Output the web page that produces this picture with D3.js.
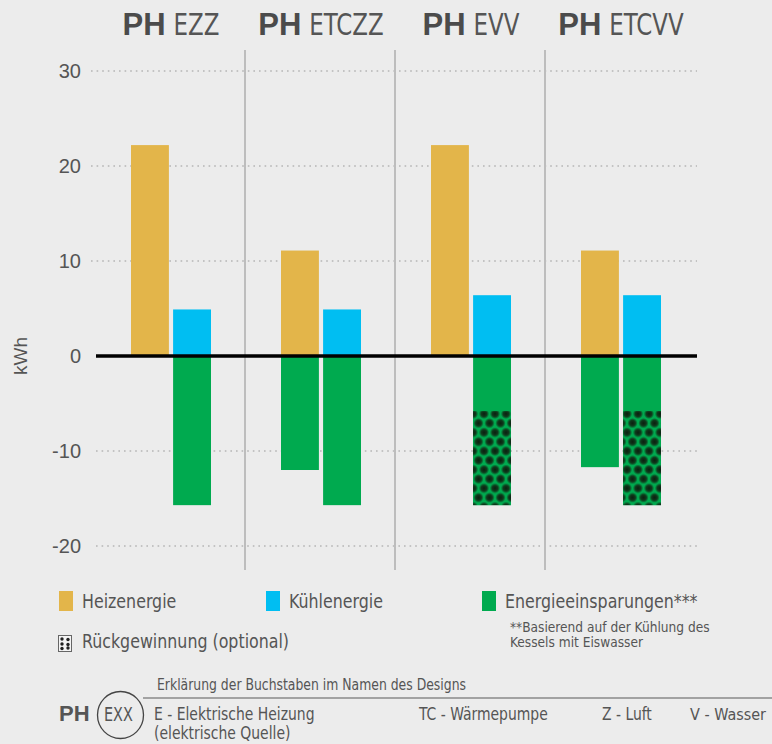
<!DOCTYPE html>
<html>
<head>
<meta charset="utf-8">
<script src="https://cdn.jsdelivr.net/npm/d3@7"></script>
<style>
  html, body { margin: 0; padding: 0; background: #ececec; }
  svg { display: block; }
  .narrow { font-family: "Liberation Sans Narrow", "DejaVu Sans Condensed", "Arial Narrow", sans-serif; }
  .sans { font-family: "Liberation Sans", Arial, sans-serif; }
</style>
</head>
<body>
<div id="chart"></div>
<script>
// Chart data
const designs = ["EZZ", "ETCZZ", "EVV", "ETCVV"];
const heating = [22.2, 11.1, 22.2, 11.1];
const cooling = [4.9, 4.9, 6.4, 6.4];
const savingsLeft = [null, -12.0, null, -11.7];
const savingsRight = [-15.7, -15.7, -15.7, -15.7];
const recoveryTop = [null, null, -5.8, -5.8];   // where the optional recovery part starts
const yTicks = [30, 20, 10, 0, -10, -20];

const width = 772;
const height = 744;
const textColor = "#555";

// squeeze condensed text a bit to get closer to the original narrow face
function condense(sel, k) {
    sel.each(function () {
        const w = this.getComputedTextLength();
        d3.select(this)
            .attr("textLength", w * k)
            .attr("lengthAdjust", "spacingAndGlyphs");
    });
    return sel;
}

const svg = d3.select("#chart").append("svg")
    .attr("width", width)
    .attr("height", height);

svg.append("rect").attr("width", width).attr("height", height).attr("fill", "#ececec");

// pattern for the recovery part
const defs = svg.append("defs");
const grad = defs.append("radialGradient").attr("id", "dotGrad");
grad.append("stop").attr("offset", "0%").attr("stop-color", "#0b1f10");
grad.append("stop").attr("offset", "55%").attr("stop-color", "#0f3a1c");
grad.append("stop").attr("offset", "100%").attr("stop-color", "#00aa4f");

const pat = defs.append("pattern")
    .attr("id", "recovery")
    .attr("patternUnits", "userSpaceOnUse")
    .attr("width", 11)
    .attr("height", 18.6);
pat.append("rect").attr("width", 11).attr("height", 18.6).attr("fill", "#00aa4f");
[[0, 4.65], [11, 4.65], [5.5, 13.95]].forEach(([cx, cy]) => {
    pat.append("circle").attr("cx", cx).attr("cy", cy).attr("r", 5.2).attr("fill", "url(#dotGrad)");
});

// scales
const y = d3.scaleLinear().domain([-20, 30]).range([546, 71]);
const x = d3.scaleBand().domain(designs).range([96, 696]);
const inner = d3.scaleBand().domain(["l", "r"]).range([-40, 40]).paddingInner(0.1);

// gridlines
svg.append("g")
    .selectAll("line")
    .data(yTicks.filter(d => d !== 0))
    .join("line")
    .attr("x1", d => d > 0 ? 91 : 96)
    .attr("x2", 697)
    .attr("y1", d => y(d))
    .attr("y2", d => y(d))
    .attr("stroke", "#9a9a9a")
    .attr("stroke-width", 1.2)
    .attr("stroke-dasharray", "1.6,4");

// tick labels
svg.append("g")
    .selectAll("text")
    .data(yTicks)
    .join("text")
    .attr("class", "sans")
    .attr("x", 81)
    .attr("y", d => y(d) + 7)
    .attr("text-anchor", "end")
    .attr("font-size", 20)
    .attr("fill", textColor)
    .text(d => d);

svg.append("text")
    .attr("class", "sans")
    .attr("transform", `translate(27,${y(0)}) rotate(-90)`)
    .attr("text-anchor", "middle")
    .attr("font-size", 19)
    .attr("fill", textColor)
    .text("kWh");

// group separators
svg.append("g")
    .selectAll("line")
    .data(designs.slice(1))
    .join("line")
    .attr("x1", d => x(d) - 1)
    .attr("x2", d => x(d) - 1)
    .attr("y1", 50)
    .attr("y2", 570)
    .attr("stroke", "#bdbdbd")
    .attr("stroke-width", 2);

// bars
const bars = svg.append("g");
function center(i) { return x(designs[i]) + x.bandwidth() / 2; }

function drawBars(values, slot, color) {
    bars.selectAll(null)
        .data(values.map((v, i) => ({ v, i })).filter(d => d.v !== null))
        .join("rect")
        .attr("x", d => center(d.i) + inner(slot))
        .attr("width", inner.bandwidth())
        .attr("y", d => y(Math.max(0, d.v)))
        .attr("height", d => Math.abs(y(d.v) - y(0)))
        .attr("fill", color);
}
drawBars(heating, "l", "#e3b54a");
drawBars(cooling, "r", "#00bef2");
drawBars(savingsLeft, "l", "#00aa4f");
drawBars(savingsRight, "r", "#00aa4f");

bars.selectAll(null)
    .data(recoveryTop.map((v, i) => ({ v, i })).filter(d => d.v !== null))
    .join("rect")
    .attr("x", d => center(d.i) + inner("r"))
    .attr("width", inner.bandwidth())
    .attr("y", d => y(d.v))
    .attr("height", d => y(savingsRight[d.i]) - y(d.v))
    .attr("fill", "url(#recovery)");

// zero line
svg.append("line")
    .attr("x1", 96).attr("x2", 697)
    .attr("y1", y(0)).attr("y2", y(0))
    .attr("stroke", "#000")
    .attr("stroke-width", 3.5);

// titles: bold "PH" + condensed design code, centred over each group
const titleG = svg.append("g").attr("fill", "#4b4b4b");
designs.forEach(d => {
    const ph = titleG.append("text")
        .attr("class", "sans")
        .attr("font-weight", "bold")
        .attr("font-size", 31)
        .attr("y", 35)
        .text("PH");
    const code = titleG.append("text")
        .attr("class", "narrow")
        .attr("font-size", 30)
        .attr("y", 35)
        .attr("fill", "#555")
        .text(d);
    condense(code, 0.85);
    const wPh = ph.node().getComputedTextLength();
    const wCode = +code.attr("textLength");
    const start = x(d) + x.bandwidth() / 2 - (wPh + 8 + wCode) / 2;
    ph.attr("x", start);
    code.attr("x", start + wPh + 8);
});

// legend
const legend = svg.append("g").attr("class", "narrow").attr("fill", textColor);
const legendItems = [
    { label: "Heizenergie", color: "#e3b54a", x: 59 },
    { label: "Kühlenergie", color: "#00bef2", x: 266 },
    { label: "Energieeinsparungen***", color: "#00aa4f", x: 482 }
];
legendItems.forEach(d => {
    legend.append("rect")
        .attr("x", d.x).attr("y", 591)
        .attr("width", 14).attr("height", 20)
        .attr("fill", d.color);
    condense(legend.append("text")
        .attr("x", d.x + 23).attr("y", 608)
        .attr("font-size", 20)
        .text(d.label), 0.88);
});

// recovery legend icon
const icon = legend.append("g").attr("transform", "translate(58,635)");
icon.append("rect")
    .attr("x", 0.5).attr("y", 0.5)
    .attr("width", 13).attr("height", 16)
    .attr("fill", "#f4f4f4")
    .attr("stroke", "#666")
    .attr("stroke-width", 1);
[[4, 4], [10, 4.5], [4, 9], [10, 9.5], [4, 13.5], [10, 13]].forEach(([cx, cy]) => {
    icon.append("circle")
        .attr("cx", cx)
        .attr("cy", cy)
        .attr("r", 1.7)
        .attr("fill", "#222");
});
condense(legend.append("text")
    .attr("x", 82).attr("y", 648)
    .attr("font-size", 20)
    .text("Rückgewinnung (optional)"), 0.88);

// footnote: two lines, sized so they do not collide
const noteLines = ["**Basierend auf der Kühlung des", "Kessels mit Eiswasser"];
noteLines.forEach((t, i) => {
    const el = legend.append("text")
        .attr("x", 510).attr("y", 632 + i * 15)
        .attr("font-size", 14)
        .text(t);
    condense(el, 0.97);
});

// letter explanation footer
const foot = svg.append("g").attr("class", "narrow").attr("fill", textColor);
condense(foot.append("text")
    .attr("x", 157).attr("y", 690)
    .attr("font-size", 15)
    .text("Erklärung der Buchstaben im Namen des Designs"), 0.92);
foot.append("line")
    .attr("x1", 143).attr("x2", 772)
    .attr("y1", 698).attr("y2", 698)
    .attr("stroke", "#8a8a8a")
    .attr("stroke-width", 1.5);
foot.append("text")
    .attr("class", "sans")
    .attr("x", 59).attr("y", 721)
    .attr("font-size", 22)
    .attr("font-weight", "bold")
    .text("PH");
foot.append("ellipse")
    .attr("cx", 120.5).attr("cy", 715)
    .attr("rx", 23).attr("ry", 23.5)
    .attr("fill", "none")
    .attr("stroke", "#444")
    .attr("stroke-width", 1.3);
condense(foot.append("text")
    .attr("x", 104).attr("y", 721)
    .attr("font-size", 20)
    .text("EXX"), 0.8);

const keys = [
    { text: "E - Elektrische Heizung", x: 154, size: 18, k: 0.86 },
    { text: "TC - Wärmepumpe", x: 419, size: 18, k: 0.86 },
    { text: "Z - Luft", x: 602, size: 18, k: 0.86 },
    { text: "V - Wasser", x: 690, size: 16, k: 1 }
];
foot.selectAll(null)
    .data(keys)
    .join("text")
    .attr("x", d => d.x)
    .attr("y", 720)
    .attr("font-size", d => d.size)
    .text(d => d.text)
    .each(function (d) { if (d.k < 1) condense(d3.select(this), d.k); });
condense(foot.append("text")
    .attr("x", 154).attr("y", 739)
    .attr("font-size", 18)
    .text("(elektrische Quelle)"), 0.86);
</script>
</body>
</html>
